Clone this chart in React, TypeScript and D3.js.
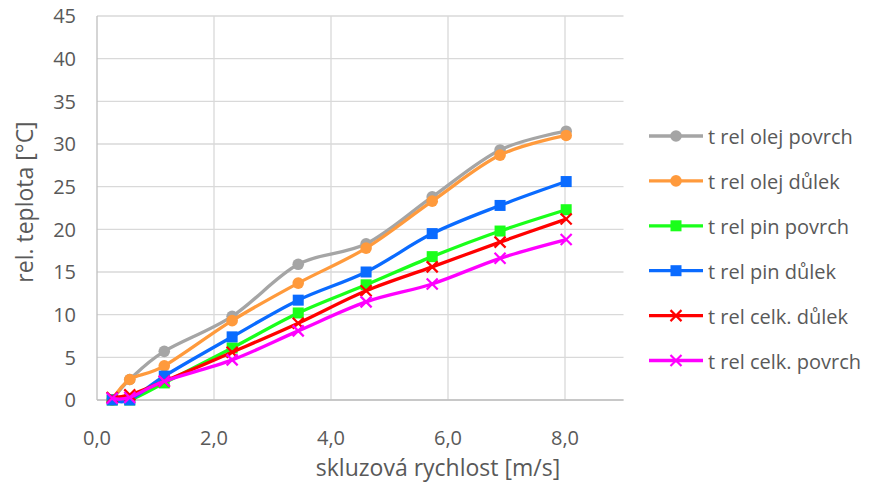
import React from "react";
import * as d3 from "d3";

const xValues = [0.26, 0.56, 1.15, 2.31, 3.44, 4.6, 5.73, 6.89, 8.02];
const olejPovrch = [0, 2.4, 5.7, 9.8, 15.9, 18.3, 23.8, 29.3, 31.5];
const olejDulek = [0, 2.4, 4.0, 9.3, 13.7, 17.8, 23.3, 28.7, 31.0];
const pinPovrch = [0, 0, 2.0, 6.1, 10.2, 13.5, 16.8, 19.8, 22.3];
const pinDulek = [0, 0, 2.8, 7.4, 11.7, 15.0, 19.5, 22.8, 25.6];
const celkDulek = [0.3, 0.6, 2.2, 5.6, 9.0, 12.8, 15.6, 18.5, 21.2];
const celkPovrch = [0.2, 0.3, 2.2, 4.7, 8.1, 11.5, 13.6, 16.6, 18.8];

const yTicks = [0, 5, 10, 15, 20, 25, 30, 35, 40, 45];
const xTicks = [0, 2, 4, 6, 8];

const series = [
  { name: "t rel olej povrch", values: olejPovrch, color: "#a5a5a5", marker: "circle" },
  { name: "t rel olej důlek", values: olejDulek, color: "#ff9a3c", marker: "circle" },
  { name: "t rel pin povrch", values: pinPovrch, color: "#1aff1a", marker: "square" },
  { name: "t rel pin důlek", values: pinDulek, color: "#0a6bff", marker: "square" },
  { name: "t rel celk. důlek", values: celkDulek, color: "#ff0000", marker: "x" },
  { name: "t rel celk. povrch", values: celkPovrch, color: "#ff00ff", marker: "x" },
];

const FONT = "'Open Sans', sans-serif";
const TEXT = "#595959";

function Marker({ type, x, y, color }: { type: string; x: number; y: number; color: string }) {
  if (type === "circle") return <circle cx={x} cy={y} r={5.8} fill={color} />;
  if (type === "square") return <rect x={x - 5.5} y={y - 5.5} width={11} height={11} fill={color} />;
  return (
    <g stroke={color} strokeWidth={2.2}>
      <line x1={x - 5.5} y1={y - 5.5} x2={x + 5.5} y2={y + 5.5} />
      <line x1={x - 5.5} y1={y + 5.5} x2={x + 5.5} y2={y - 5.5} />
    </g>
  );
}

export default function App() {
  const W = 872, H = 486;
  const left = 97, right = 623.5, top = 16, bottom = 400;
  const x = d3.scaleLinear().domain([0, 9]).range([left, right]);
  const y = d3.scaleLinear().domain([0, 45]).range([bottom, top]);
  const line = d3
    .line<number>()
    .x((_, i) => x(xValues[i]))
    .y((d) => y(d))
    .curve(d3.curveCatmullRom.alpha(0));

  const legendY0 = 136, legendStep = 44.9;

  return (
    <svg
      width={W}
      height={H}
      style={{ position: "absolute", left: 0, top: 0, background: "#fff" }}
      fontFamily={FONT}
    >
      {yTicks.map((t) => (
        <line key={"gy" + t} x1={left} x2={right} y1={y(t)} y2={y(t)} stroke="#d9d9d9" strokeWidth={1.3} />
      ))}
      {xTicks.filter((t) => t > 0).map((t) => (
        <line key={"gx" + t} x1={x(t)} x2={x(t)} y1={top} y2={bottom} stroke="#d9d9d9" strokeWidth={1.3} />
      ))}
      <line x1={left} x2={left} y1={top} y2={bottom} stroke="#bfbfbf" strokeWidth={1.3} />
      <line x1={left} x2={right} y1={bottom} y2={bottom} stroke="#bfbfbf" strokeWidth={1.3} />

      {yTicks.map((t) => (
        <text key={"ty" + t} x={76} y={y(t)} dy="0.36em" textAnchor="end" fontSize={20} fill={TEXT}>
          {t}
        </text>
      ))}
      {xTicks.map((t) => (
        <text key={"tx" + t} x={x(t)} y={445} textAnchor="middle" fontSize={20} fill={TEXT}>
          {t.toFixed(1).replace(".", ",")}
        </text>
      ))}
      <text x={438} y={476} textAnchor="middle" fontSize={23} fill={TEXT}>
        skluzová rychlost [m/s]
      </text>
      <text
        transform={`translate(33,202) rotate(-90)`}
        textAnchor="middle"
        fontSize={23}
        fill={TEXT}
      >
        rel. teplota [°C]
      </text>

      {series.map((s) => (
        <g key={s.name}>
          <path d={line(s.values) || ""} fill="none" stroke={s.color} strokeWidth={3.3} strokeLinejoin="round" />
          {s.values.map((v, i) => (
            <Marker key={i} type={s.marker} x={x(xValues[i])} y={y(v)} color={s.color} />
          ))}
        </g>
      ))}

      {series.map((s, i) => {
        const ly = legendY0 + i * legendStep;
        return (
          <g key={"lg" + s.name}>
            <line x1={649} x2={703} y1={ly} y2={ly} stroke={s.color} strokeWidth={3.3} />
            <Marker type={s.marker} x={676} y={ly} color={s.color} />
            <text x={708} y={ly + 8} fontSize={20} fill={TEXT}>
              {s.name}
            </text>
          </g>
        );
      })}
    </svg>
  );
}
